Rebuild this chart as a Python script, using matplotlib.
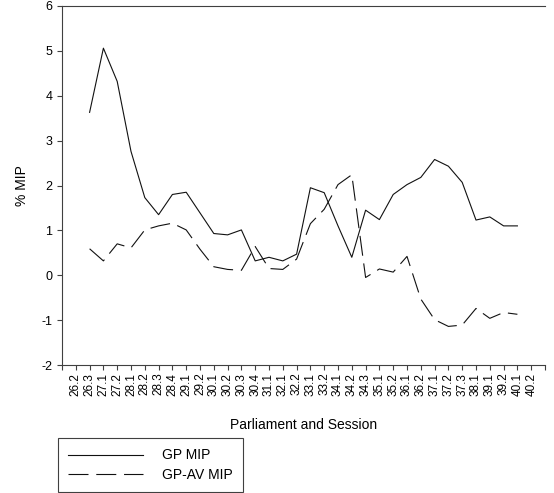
import matplotlib
matplotlib.use('Agg')
import matplotlib.pyplot as plt
import numpy as np

plt.rcParams['font.family'] = ['Liberation Sans', 'DejaVu Sans']
plt.rcParams['axes.unicode_minus'] = False

# parliament / session labels along the x axis
sessions = ['26.2', '26.3', '27.1', '27.2', '28.1', '28.2', '28.3', '28.4', '29.1', '29.2',
            '30.1', '30.2', '30.3', '30.4', '31.1', '32.1', '32.2', '33.1', '33.2', '34.1',
            '34.2', '34.3', '35.1', '35.2', '36.1', '36.2', '37.1', '37.2', '37.3', '38.1',
            '39.1', '39.2', '40.1', '40.2']

# % MIP per session (no value for the first and last session)
gp_mip = [np.nan, 3.63, 5.06, 4.32, 2.76, 1.73, 1.35, 1.80, 1.85, 1.39,
          0.93, 0.90, 1.01, 0.32, 0.40, 0.32, 0.47, 1.95, 1.84, 1.10,
          0.40, 1.45, 1.24, 1.80, 2.02, 2.18, 2.58, 2.43, 2.07, 1.23,
          1.30, 1.10, 1.10, np.nan]
gp_av_mip = [np.nan, 0.59, 0.32, 0.70, 0.61, 1.01, 1.10, 1.16, 1.01, 0.58,
             0.19, 0.13, 0.11, 0.64, 0.15, 0.13, 0.36, 1.15, 1.47, 2.02,
             2.24, -0.05, 0.14, 0.07, 0.42, -0.53, -0.99, -1.14, -1.11, -0.74,
             -0.96, -0.83, -0.87, np.nan]

x = np.arange(len(sessions))

fig = plt.figure(figsize=(5.54, 4.93), dpi=100)
ax = fig.add_axes([62 / 554, 1 - 365 / 493, (545 - 62) / 554, (365 - 6) / 493])

lw = 0.8
l1, = ax.plot(x, gp_mip, color='#111111', lw=lw, label='GP MIP')
l2, = ax.plot(x, gp_av_mip, color='#111111', lw=lw, label='GP-AV MIP',
              linestyle=(0, (18, 7)))

ax.set_xlim(-1, len(sessions))
ax.set_ylim(-2, 6)
ax.set_yticks(range(-2, 7))

# ticks at every slot, labels only on the sessions
ax.set_xticks(np.arange(-1, len(sessions) + 1))
ax.set_xticklabels([''] + sessions + [''], rotation=90, fontsize=8.5)
ax.tick_params(axis='y', labelsize=9, length=3.5, width=0.8, color='#404040')
ax.tick_params(axis='x', length=3.5, width=0.8, color='#404040', pad=2)

for side in ['left', 'bottom', 'top']:
    ax.spines[side].set_color('#404040')
    ax.spines[side].set_linewidth(0.8)
ax.spines['right'].set_visible(False)

ax.set_xlabel('Parliament and Session', fontsize=10, labelpad=16)
ax.set_ylabel('% MIP', fontsize=10, labelpad=9)

leg = fig.legend(handles=[l1, l2], loc='upper left',
                 bbox_to_anchor=(58 / 554, 1 - 438 / 493), borderaxespad=0,
                 fontsize=10, handlelength=5.4, handletextpad=1.35,
                 borderpad=0.75, labelspacing=0.4, fancybox=False,
                 framealpha=1, edgecolor='#404040')
leg.get_frame().set_linewidth(0.8)

fig.savefig('out.png', dpi=100)
